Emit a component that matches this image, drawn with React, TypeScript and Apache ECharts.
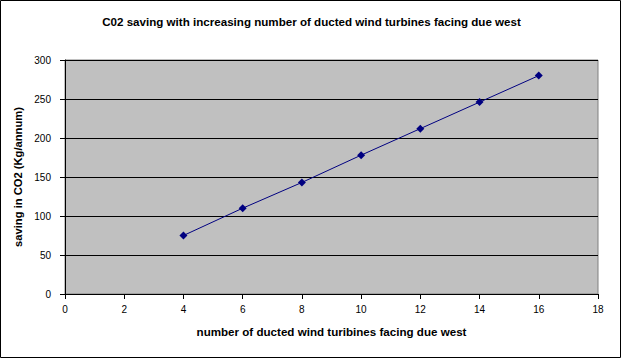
import React, { useEffect, useRef } from "react";
import * as echarts from "echarts";

const turbines = [4, 6, 8, 10, 12, 14, 16];
const co2Saving = [75, 110, 143, 178, 212, 246, 280];
const titleText = "C02 saving with increasing number of ducted wind turbines facing due west";
const xName = "number of ducted wind turibines facing due west";
const yName = "saving in CO2 (Kg/annum)";

export default function App() {
  const ref = useRef<HTMLDivElement>(null);
  useEffect(() => {
    if (!ref.current) return;
    const chart = echarts.init(ref.current, undefined, { renderer: "svg" });
    const font = "Arial, 'Liberation Sans', sans-serif";
    chart.setOption({
      animation: false,
      backgroundColor: "#ffffff",
      title: {
        text: titleText,
        left: "center",
        top: 15,
        padding: 0,
        textStyle: { fontFamily: font, fontSize: 11.6, fontWeight: "bold", color: "#000" },
      },
      graphic: [
        {
          type: "rect",
          shape: { x: 0.5, y: 0.5, width: 620, height: 357 },
          style: { fill: "none", stroke: "#000", lineWidth: 1 },
          silent: true,
        },
      ],
      grid: {
        left: 65,
        top: 60,
        right: 25,
        bottom: 65,
        show: true,
        backgroundColor: "#c0c0c0",
        borderColor: "#808080",
        borderWidth: 1,
      },
      xAxis: {
        type: "value",
        min: 0,
        max: 18,
        interval: 2,
        name: xName,
        nameLocation: "middle",
        nameGap: 31,
        nameTextStyle: { fontFamily: font, fontSize: 11.6, fontWeight: "bold", color: "#000" },
        axisLine: { show: true, onZero: false, lineStyle: { color: "#000", width: 1 } },
        axisTick: { show: true, length: 5, lineStyle: { color: "#000" } },
        axisLabel: { fontFamily: font, fontSize: 10, color: "#000", margin: 10 },
        splitLine: { show: false },
      },
      yAxis: {
        type: "value",
        min: 0,
        max: 300,
        interval: 50,
        name: yName,
        nameLocation: "middle",
        nameGap: 31,
        nameTextStyle: { fontFamily: font, fontSize: 11.2, fontWeight: "bold", color: "#000" },
        axisLine: { show: true, lineStyle: { color: "#000", width: 1 } },
        axisTick: { show: true, length: 5, lineStyle: { color: "#000" } },
        axisLabel: { fontFamily: font, fontSize: 10, color: "#000", margin: 14 },
        splitLine: { show: true, lineStyle: { color: "#000", width: 1 } },
      },
      series: [
        {
          type: "line",
          data: turbines.map((x, i) => [x, co2Saving[i]]),
          symbol: "diamond",
          symbolSize: 8,
          lineStyle: { color: "#000080", width: 1 },
          itemStyle: { color: "#000080" },
        },
      ],
    });
    return () => chart.dispose();
  }, []);
  return (
    <div
      ref={ref}
      style={{ position: "fixed", left: 0, top: 0, width: 623, height: 359 }}
    />
  );
}
